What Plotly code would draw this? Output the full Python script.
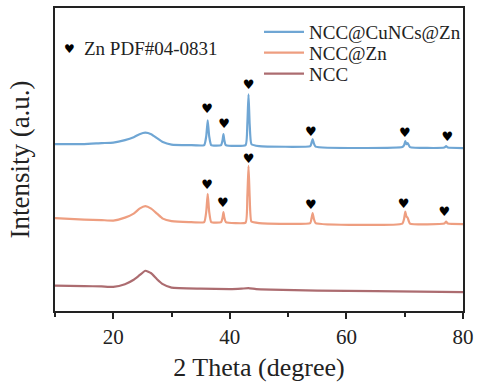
import plotly.graph_objects as go

# ---------------- data ----------------
# 2-theta positions and intensities (arbitrary units, stacked with offsets as in figure)
x_cu = [10, 15, 18, 20, 22, 23.5, 24.5, 25.5, 26.5, 27.5, 28.5, 30, 33, 35.6, 35.95, 36.2, 36.45, 36.8,
        38.5, 38.75, 38.9, 39.05, 39.3, 42.7, 43.0, 43.2, 43.4, 43.7, 45, 53.8, 54.0, 54.2, 54.4, 54.7,
        69.6, 69.9, 70.1, 70.3, 70.5, 70.9, 76.8, 77.1, 77.4, 80]
y_cu = [168, 168, 169, 169.5, 172, 175, 178, 179.5, 178, 174, 170, 167.5, 167, 167, 176, 192, 176, 167,
        167, 172, 178, 172, 167, 167, 188, 218, 188, 168, 166, 166, 169, 173, 169, 165.5,
        165, 167, 171, 168, 169, 165, 164.5, 166, 164.5, 164]

x_zn = [10, 15, 18, 20, 22, 23.5, 24.5, 25.5, 26.5, 27.5, 28.5, 30, 33, 35.6, 35.95, 36.2, 36.45, 36.8,
        38.5, 38.75, 38.9, 39.05, 39.3, 42.7, 43.0, 43.2, 43.4, 43.7, 45, 53.8, 54.0, 54.2, 54.4, 54.7,
        69.6, 69.9, 70.1, 70.3, 70.5, 70.9, 76.8, 77.1, 77.4, 80]
y_zn = [93.5, 92, 91.5, 91, 94, 98, 103, 105.5, 103, 98, 93, 90.5, 89.5, 89.5, 100, 118, 100, 89.5,
        89.5, 94, 99.5, 94, 89.5, 89, 115, 146, 115, 90, 88.5, 88.5, 93, 98.5, 93, 88.5,
        88, 93, 100, 95, 94, 88, 88, 90, 88, 87.5]

x_ncc = [10, 15, 18, 20, 22, 23.5, 24.5, 25.5, 26.5, 27.5, 28.5, 30, 35, 40, 42, 43.2, 44.5, 47, 55, 65, 80]
y_ncc = [25.5, 25, 24.8, 24.3, 27, 31.5, 36, 40.5, 38, 32, 27, 23.5, 22.5, 22, 22.5, 23, 22, 21.5, 20.5, 20, 19]

# Zn reference peak markers (2-theta, marker height)
heart_x_cu = [36.1, 39.0, 43.2, 53.9, 70.0, 77.3]
heart_y_cu = [203, 187, 227, 179, 178, 174]
heart_x_zn = [36.1, 38.8, 43.2, 53.9, 69.8, 76.8]
heart_y_zn = [126, 108, 152, 106, 107, 99]

names = ["NCC@CuNCs@Zn", "NCC@Zn", "NCC"]
colors = ["#6FA6D4", "#EE9E80", "#AC6C70"]
legend_ids = ["legend", "legend2", "legend3"]
legend_y = [0.921, 0.852, 0.783]

FONT = "Liberation Serif"

fig = go.Figure()
for xs, ys, nm, c, lg in [(x_cu, y_cu, names[0], colors[0], legend_ids[0]),
                          (x_zn, y_zn, names[1], colors[1], legend_ids[1]),
                          (x_ncc, y_ncc, names[2], colors[2], legend_ids[2])]:
    fig.add_trace(go.Scatter(x=xs, y=ys, mode="lines", name=nm, legend=lg,
                             line=dict(color=c, width=2.2, shape="spline", smoothing=0.4)))

for hx, hy in [(heart_x_cu, heart_y_cu), (heart_x_zn, heart_y_zn)]:
    fig.add_trace(go.Scatter(x=hx, y=hy, mode="text", text=["♥"] * len(hx),
                             textfont=dict(family="DejaVu Sans", size=13, color="black"),
                             showlegend=False, hoverinfo="skip"))

fig.add_annotation(x=12.5, y=264, xref="x", yref="y", text="♥", showarrow=False,
                   font=dict(family="DejaVu Sans", size=12, color="black"))
fig.add_annotation(x=14.6, y=264, xref="x", yref="y", text="Zn PDF#04-0831", showarrow=False,
                   xanchor="left", font=dict(family=FONT, size=19, color="#222"))

legend_style = dict(x=0.5, xanchor="left", yanchor="middle", bgcolor="rgba(0,0,0,0)",
                    font=dict(family=FONT, size=19, color="#222"), itemwidth=40)
fig.update_layout(
    width=480, height=387,
    margin=dict(l=55, r=11, t=6, b=76),
    paper_bgcolor="white", plot_bgcolor="white",
    font=dict(family=FONT, color="#222"),
    legend=dict(y=legend_y[0], **legend_style),
    legend2=dict(y=legend_y[1], **legend_style),
    legend3=dict(y=legend_y[2], **legend_style),
    showlegend=True,
)
fig.update_xaxes(range=[10, 80], tick0=0, dtick=20, ticks="outside", ticklen=6, tickwidth=2,
                 tickcolor="#222", showline=True, linewidth=2, linecolor="#222", mirror=True,
                 showgrid=False, zeroline=False,
                 tickfont=dict(family=FONT, size=21, color="#222"),
                 minor=dict(dtick=10, ticklen=4, tickwidth=2, tickcolor="#222", ticks="outside"),
                 title=dict(text="2 Theta (degree)", font=dict(family=FONT, size=26, color="#222"),
                            standoff=10))
fig.update_yaxes(range=[0, 305], showticklabels=False, ticks="", showline=True, linewidth=2,
                 linecolor="#222", mirror=True, showgrid=False, zeroline=False,
                 title=dict(text="Intensity (a.u.)", font=dict(family=FONT, size=27, color="#222"),
                            standoff=16))

fig.write_html("out.html")
